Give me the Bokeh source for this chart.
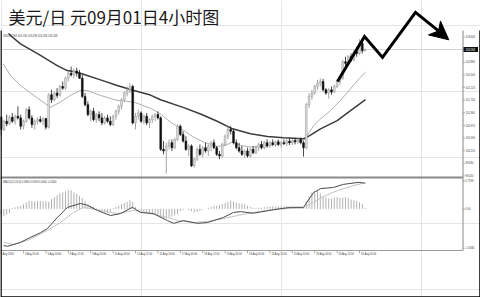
from bokeh.plotting import figure
from bokeh.models import Range1d, ColumnDataSource
from bokeh.core.properties import value
from bokeh.embed import file_html
from bokeh.resources import INLINE

# ---------------- data ----------------
title_text = "美元/日 元09月01日4小时图"
header_text = "USDJPY,H4 103.130 103.296 103.208 103.268"
macd_text = "MACD(12,26,9) 0.0964 0.0929 0.0000 -0.0050"

opens = [101.22, 100.85, 101.10, 101.02, 101.22, 101.10, 101.25, 101.20, 100.95, 101.10,
         101.45, 101.20, 101.00, 101.10, 101.15, 101.10, 101.18, 100.92, 101.90, 101.75,
         101.95, 101.88, 102.15, 102.10, 102.40, 102.55, 102.50, 102.62, 102.55, 102.40,
         101.85, 101.60, 101.30, 101.40, 101.15, 101.30, 101.20, 101.05, 101.20, 101.10,
         101.00, 101.25, 101.40, 101.55, 101.75, 101.95, 102.05, 102.15, 101.05, 101.25,
         101.35, 101.10, 101.25, 101.05, 101.15, 101.25, 101.30, 101.20, 100.25, 100.20,
         100.35, 100.45, 100.30, 100.55, 100.95, 100.70, 100.50, 100.25, 100.35, 99.75,
         99.95, 100.25, 100.10, 100.30, 100.20, 100.35, 100.45, 100.30, 100.10, 100.05,
         100.40, 100.65, 100.85, 100.80, 100.45, 100.30, 100.20, 100.10, 100.20, 100.05,
         100.25, 100.15, 100.30, 100.40, 100.30, 100.45, 100.35, 100.45, 100.40, 100.48,
         100.40, 100.45, 100.42, 100.50, 100.45, 100.52, 100.48, 100.55, 100.45, 100.30,
         101.60, 101.85, 101.95, 102.15, 102.25, 102.30, 102.05, 101.95, 102.05, 101.98,
         102.15, 102.30, 102.40, 102.90, 102.85, 103.05, 102.95, 103.20, 103.15, 103.45,
         103.23]
highs = [101.25, 101.15, 101.30, 101.28, 101.35, 101.30, 101.55, 101.30, 101.15, 101.50,
         101.55, 101.28, 101.15, 101.22, 101.25, 101.22, 101.20, 101.95, 102.05, 102.00,
         102.10, 102.20, 102.30, 102.45, 102.60, 102.75, 102.70, 102.72, 102.65, 102.50,
         101.95, 101.70, 101.45, 101.50, 101.35, 101.40, 101.35, 101.25, 101.30, 101.25,
         101.30, 101.45, 101.60, 101.80, 102.00, 102.15, 102.25, 102.20, 101.35, 101.45,
         101.40, 101.30, 101.35, 101.20, 101.30, 101.35, 101.40, 101.25, 100.50, 100.45,
         100.55, 100.55, 100.60, 101.00, 101.00, 100.80, 100.65, 100.40, 100.40, 100.00,
         100.30, 100.40, 100.35, 100.45, 100.40, 100.50, 100.55, 100.35, 100.20, 100.45,
         100.70, 100.95, 100.95, 100.85, 100.55, 100.45, 100.35, 100.25, 100.30, 100.30,
         100.35, 100.35, 100.45, 100.50, 100.50, 100.55, 100.50, 100.55, 100.52, 100.55,
         100.50, 100.55, 100.55, 100.58, 100.55, 100.60, 100.58, 100.60, 100.50, 101.65,
         101.95, 102.05, 102.20, 102.35, 102.40, 102.38, 102.10, 102.10, 102.15, 102.20,
         102.35, 102.45, 102.95, 103.05, 103.10, 103.15, 103.25, 103.35, 103.58, 103.52,
         103.296]
lows = [100.67, 100.80, 100.95, 100.98, 101.05, 101.00, 101.15, 100.85, 100.85, 101.05,
        101.15, 100.90, 100.85, 101.00, 101.05, 100.98, 100.85, 100.88, 101.65, 101.70,
        101.80, 101.85, 102.05, 102.05, 102.30, 102.45, 102.40, 102.45, 102.38, 101.80,
        101.55, 101.25, 101.10, 101.10, 101.05, 101.10, 100.98, 101.00, 101.05, 100.95,
        100.95, 101.15, 101.30, 101.45, 101.70, 101.85, 101.95, 101.00, 100.85, 101.15,
        101.05, 101.00, 100.98, 100.90, 101.05, 101.10, 101.15, 100.20, 100.10, 99.52,
        100.25, 100.20, 100.25, 100.50, 100.65, 100.45, 100.20, 100.05, 99.72, 99.70,
        99.90, 100.05, 100.00, 100.15, 100.05, 100.20, 100.25, 100.05, 99.95, 100.00,
        100.35, 100.55, 100.70, 100.40, 100.25, 100.15, 100.05, 99.98, 100.00, 100.00,
        100.10, 100.10, 100.20, 100.25, 100.25, 100.30, 100.30, 100.35, 100.32, 100.35,
        100.30, 100.38, 100.35, 100.38, 100.38, 100.40, 100.42, 100.40, 100.03, 100.25,
        101.50, 101.75, 101.90, 102.05, 102.15, 102.00, 101.90, 101.78, 101.90, 101.95,
        102.10, 102.20, 102.35, 102.75, 102.80, 102.90, 102.90, 103.05, 103.10, 103.15,
        103.208]
closes = [100.85, 101.10, 101.02, 101.22, 101.10, 101.25, 101.20, 100.95, 101.10, 101.45,
          101.20, 101.00, 101.10, 101.15, 101.10, 101.18, 100.92, 101.90, 101.75, 101.95,
          101.88, 102.15, 102.10, 102.40, 102.55, 102.50, 102.62, 102.55, 102.40, 101.85,
          101.60, 101.30, 101.40, 101.15, 101.30, 101.20, 101.05, 101.20, 101.10, 101.00,
          101.25, 101.40, 101.55, 101.75, 101.95, 102.05, 102.15, 101.05, 101.25, 101.35,
          101.10, 101.25, 101.05, 101.15, 101.25, 101.30, 101.20, 100.25, 100.20, 100.35,
          100.45, 100.30, 100.55, 100.95, 100.70, 100.50, 100.25, 100.35, 99.75, 99.95,
          100.25, 100.10, 100.30, 100.20, 100.35, 100.45, 100.30, 100.10, 100.05, 100.40,
          100.65, 100.85, 100.80, 100.45, 100.30, 100.20, 100.10, 100.20, 100.05, 100.25,
          100.15, 100.30, 100.40, 100.30, 100.45, 100.35, 100.45, 100.40, 100.48, 100.40,
          100.45, 100.42, 100.50, 100.45, 100.52, 100.48, 100.55, 100.45, 100.30, 101.60,
          101.85, 101.95, 102.15, 102.25, 102.30, 102.05, 101.95, 102.05, 101.98, 102.15,
          102.30, 102.40, 102.90, 102.85, 103.05, 102.95, 103.20, 103.15, 103.45, 103.23,
          103.268]
last_price = 103.268

ma_fast_x = [0.75, 3.36, 6.93, 11.68, 17.64, 21.21, 24.79, 28.36, 30.75, 35.5, 41.46, 47.39,
             53.36, 56.93, 60.5, 65.25, 68.71, 72.29, 77.18, 80.14, 82.54, 85.5, 89.07, 95.04,
             100.96, 108.1, 109.32, 111.68, 114.07, 117.64, 121.21, 124.79, 127.75, 130.14]
ma_fast_y = [102.84, 102.48, 102.18, 101.88, 101.52, 101.68, 101.88, 102.03, 102.03, 101.88,
             101.73, 101.68, 101.49, 101.32, 101.07, 100.82, 100.62, 100.47, 100.34, 100.37,
             100.47, 100.37, 100.32, 100.37, 100.44, 100.52, 100.67, 100.97, 101.17, 101.42,
             101.73, 102.08, 102.38, 102.58]
ma_slow_x = [2.64, 3.36, 6.93, 14.07, 20.04, 23.6, 27.2, 30.75, 35.5, 41.46, 47.39, 53.36,
             56.93, 65.25, 71.21, 77.18, 82.64, 89.07, 95.14, 100.86, 108.0, 109.32, 114.07,
             120.04, 124.79, 130.14]
ma_slow_y = [103.75, 103.69, 103.44, 103.09, 102.78, 102.63, 102.58, 102.48, 102.35, 102.18,
             102.03, 101.89, 101.75, 101.51, 101.32, 101.10, 100.87, 100.72, 100.64, 100.60,
             100.57, 100.62, 100.87, 101.12, 101.42, 101.75]

macd_hist = [-0.15, -0.18, -0.15, -0.10, 0.02, 0.04, 0.06, 0.08, 0.12, 0.16,
             0.20, 0.20, 0.19, 0.20, 0.21, 0.20, 0.19, 0.18, 0.25, 0.30,
             0.35, 0.40, 0.42, 0.45, 0.47, 0.48, 0.42, 0.38, 0.33, 0.28,
             0.20, 0.12, 0.08, 0.05, 0.02, -0.03, -0.06, -0.09, -0.10, -0.07,
             0.02, 0.05, 0.08, 0.12, 0.15, 0.18, 0.22, 0.18, 0.05, -0.02,
             -0.05, -0.07, -0.08, -0.10, -0.12, -0.15, -0.18, -0.22, -0.25, -0.25,
             -0.22, -0.20, -0.17, -0.14, -0.06, -0.03, 0.00, -0.03, -0.06, -0.09,
             -0.08, -0.05, -0.02, 0.00, 0.03, 0.05, 0.07, 0.08, 0.10, 0.12,
             0.15, 0.18, 0.21, 0.19, 0.16, 0.14, 0.13, 0.12, 0.08, 0.05,
             0.03, 0.02, 0.03, 0.03, 0.04, 0.05, 0.06, 0.07, 0.06, 0.07,
             0.06, 0.06, 0.07, 0.06, 0.06, 0.05, 0.06, 0.05, 0.04, 0.20,
             0.33, 0.42, 0.45, 0.46, 0.40, 0.33, 0.30, 0.27, 0.26, 0.29,
             0.30, 0.28, 0.29, 0.30, 0.28, 0.24, 0.22, 0.20, 0.17, 0.13,
             0.02]
macd_main_x = [0.9, 2.3, 6.9, 10.5, 14.1, 16.6, 20.1, 23.7, 28.4, 30.9, 34.4, 39.1, 42.6,
               46.9, 49.8, 54.4, 59.4, 61.6, 65.1, 70.1, 73.7, 79.4, 83.0, 85.5, 90.1, 92.6,
               97.3, 103.4, 108.0, 111.6, 114.1, 118.7, 122.3, 127.6, 130.1]
macd_main_y = [-0.94, -0.96, -0.86, -0.73, -0.61, -0.50, -0.22, 0.04, 0.14, 0.09, -0.04,
               -0.17, -0.12, 0.04, -0.09, -0.12, -0.30, -0.37, -0.30, -0.37, -0.35, -0.22,
               -0.09, -0.07, -0.11, -0.08, -0.02, 0.04, 0.04, 0.42, 0.52, 0.55, 0.63, 0.68,
               0.66]
macd_sig_x = [0.9, 4.4, 9.4, 13.0, 16.6, 21.2, 25.9, 29.4, 35.5, 41.6, 47.3, 53.4, 59.4,
              63.0, 68.7, 73.7, 79.4, 84.4, 92.6, 99.8, 108.0, 111.6, 115.2, 120.1, 125.9,
              129.4]
macd_sig_y = [-0.86, -0.91, -0.81, -0.68, -0.55, -0.35, -0.09, 0.04, -0.04, -0.12, -0.04,
              -0.12, -0.22, -0.30, -0.35, -0.32, -0.25, -0.17, -0.06, 0.00, 0.03, 0.17, 0.32,
              0.47, 0.60, 0.66]

price_ticks = [103.640, 102.880, 102.500, 102.120, 101.740, 101.360, 100.970, 100.590,
               100.210, 99.830, 99.450]
price_tick_labels = ["103.640", "102.880", "102.500", "102.120", "101.740", "101.360",
                     "100.970", "100.590", "100.210", "99.830", "99.450"]
macd_ticks = [0.7199, 0.0, -1.0084]
macd_tick_labels = ["0.7199", "0.00", "-1.0084"]
time_ticks = [0, 8, 16, 24, 32, 40, 48, 56, 64, 72, 80, 88, 96, 104, 112, 120, 128]
time_labels = ["Aug 2016", "3 Aug 20:00", "5 Aug 04:00", "8 Aug 12:00", "9 Aug 20:00",
               "11 Aug 04:00", "12 Aug 12:00", "15 Aug 20:00", "17 Aug 04:00", "18 Aug 12:00",
               "19 Aug 20:00", "23 Aug 04:00", "24 Aug 12:00", "25 Aug 20:00", "29 Aug 04:00",
               "30 Aug 12:00", "31 Aug 20:00"]

# hand-drawn zigzag arrow (bar index, price)
arrow_x = [120.14, 129.79, 136.21, 148.0, 156.21]
arrow_y = [102.30, 103.66, 103.03, 104.39, 103.83]
arrow_head_x = [159.89, 152.64, 156.21, 156.93]
arrow_head_y = [103.56, 103.71, 103.83, 104.13]

# ---------------- layout constants ----------------
W, H = 480, 297
BAR0_PX, BAR_PX = 0.6, 2.8
PRICE_REF, PRICE_REF_PX, PRICE_PX = 103.640, 36.7, 33.08
MACD_ZERO_PX, MACD_PX = 208.4, 39.0
AXIS_X = 462.5
SMALL = "2.6px"
TXT = "#3a3a3a"
FONT = value("Liberation Sans")

p = figure(width=W, height=H, output_backend="svg", toolbar_location=None,
           x_range=Range1d(-BAR0_PX / BAR_PX, (W - BAR0_PX) / BAR_PX),
           y_range=Range1d(PRICE_REF - (H - PRICE_REF_PX) / PRICE_PX,
                           PRICE_REF + PRICE_REF_PX / PRICE_PX),
           x_axis_location=None, y_axis_location=None, min_border=0)
p.outline_line_color = None
p.background_fill_color = "white"
p.border_fill_color = "white"
p.extra_y_ranges = {"macd": Range1d(-(H - MACD_ZERO_PX) / MACD_PX, MACD_ZERO_PX / MACD_PX),
                    "py": Range1d(H, 0)}
p.extra_x_ranges = {"px": Range1d(0, W)}

# price line
p.segment(x0=[0], x1=[AXIS_X], y0=[last_price], y1=[last_price], x_range_name="px",
          line_color="#d4d4d4", line_width=1)

# moving averages
p.line(ma_fast_x, ma_fast_y, line_color="#b0b0b0", line_width=1)
p.line(ma_slow_x, ma_slow_y, line_color="#3c3c3c", line_width=1.5)

# candles
n = len(opens)
up = [closes[i] >= opens[i] for i in range(n)]
def build(flag):
    ids = [i for i in range(n) if up[i] == flag]
    return ColumnDataSource(dict(
        x=ids,
        hi=[highs[i] for i in ids], lo=[lows[i] for i in ids],
        top=[max(opens[i], closes[i]) for i in ids],
        bot=[min(opens[i], closes[i]) for i in ids]))
src_up, src_dn = build(True), build(False)
p.segment(x0="x", x1="x", y0="lo", y1="hi", source=src_up, line_color="#8e8e8e", line_width=0.8)
p.segment(x0="x", x1="x", y0="lo", y1="hi", source=src_dn, line_color="#1e1e1e", line_width=0.8)
p.vbar(x="x", width=0.62, top="top", bottom="bot", source=src_up,
       fill_color="#e4e4e4", line_color="#9a9a9a", line_width=0.6)
p.vbar(x="x", width=0.62, top="top", bottom="bot", source=src_dn,
       fill_color="#111111", line_color="#111111", line_width=0.6)

# MACD pane
idx = list(range(len(macd_hist)))
p.segment(x0=idx, x1=idx, y0=[0] * len(idx), y1=macd_hist, y_range_name="macd",
          line_color="#9c9c9c", line_width=0.8)
p.line(macd_sig_x, macd_sig_y, y_range_name="macd", line_color="#c4c4c4", line_width=1)
p.line(macd_main_x, macd_main_y, y_range_name="macd", line_color="#4a4a4a", line_width=1)

# pane frames
p.segment(x0=[0], x1=[AXIS_X], y0=[177], y1=[177], x_range_name="px", y_range_name="py",
          line_color="#8a8a8a", line_width=2)
p.segment(x0=[0], x1=[AXIS_X], y0=[250], y1=[250], x_range_name="px", y_range_name="py",
          line_color="#9a9a9a", line_width=1.2)
p.segment(x0=[AXIS_X], x1=[AXIS_X], y0=[30], y1=[250], x_range_name="px", y_range_name="py",
          line_color="#9a9a9a", line_width=1.2)

# price axis
p.segment(x0=[AXIS_X] * len(price_ticks), x1=[AXIS_X + 2] * len(price_ticks),
          y0=price_ticks, y1=price_ticks, x_range_name="px", line_color="#9a9a9a", line_width=0.8)
p.text(x=[AXIS_X + 2.5] * len(price_ticks), y=price_ticks, text=price_tick_labels,
       x_range_name="px", text_font=FONT, text_font_size=SMALL, text_color=TXT,
       text_baseline="middle", text_align="left")
p.quad(left=[AXIS_X + 0.5], right=[477.5], bottom=[last_price - 2.6 / PRICE_PX],
       top=[last_price + 2.6 / PRICE_PX], x_range_name="px", fill_color="#111111",
       line_color=None)
p.text(x=[AXIS_X + 2.5], y=[last_price], text=["%.3f" % last_price], x_range_name="px",
       text_font=FONT, text_font_size=SMALL, text_color="white",
       text_baseline="middle", text_align="left")

# macd axis
p.segment(x0=[AXIS_X] * 3, x1=[AXIS_X + 2] * 3, y0=macd_ticks, y1=macd_ticks,
          x_range_name="px", y_range_name="macd", line_color="#9a9a9a", line_width=0.8)
p.text(x=[AXIS_X + 2.5] * 3, y=macd_ticks, text=macd_tick_labels, x_range_name="px",
       y_range_name="macd", text_font=FONT, text_font_size=SMALL, text_color=TXT,
       text_baseline="middle", text_align="left")

# time axis
p.segment(x0=time_ticks, x1=time_ticks, y0=[250] * len(time_ticks), y1=[253] * len(time_ticks),
          y_range_name="py", line_color="#9a9a9a", line_width=0.8)
p.text(x=time_ticks, y=[253.5] * len(time_ticks), text=time_labels, y_range_name="py",
       x_offset=1.5, text_font=FONT, text_font_size=SMALL, text_color=TXT,
       text_baseline="middle", text_align="left")

# pane captions
p.text(x=[2.5], y=[35.5], text=[header_text], x_range_name="px", y_range_name="py",
       text_font=FONT, text_font_size=SMALL, text_color=TXT, text_baseline="middle")
p.text(x=[2.5], y=[181.7], text=[macd_text], x_range_name="px", y_range_name="py",
       text_font=FONT, text_font_size=SMALL, text_color=TXT, text_baseline="middle")

# title
p.text(x=[8], y=[15.5], text=[title_text], x_range_name="px", y_range_name="py",
       text_font=value("Noto Sans CJK SC"), text_font_size="17px", text_color="#1a1a1a",
       text_baseline="middle", text_align="left")

# outer frame
p.multi_line(xs=[[0.5, 0.5], [0.5, 479.5], [479.5, 479.5]],
             ys=[[30, 296.5], [296.5, 296.5], [296.5, 30]],
             x_range_name="px", y_range_name="py", line_color="black", line_width=1.5)

# zigzag arrow
p.line(arrow_x, arrow_y, line_color="black", line_width=3, line_join="miter")
p.patch(arrow_head_x, arrow_head_y, fill_color="black", line_color="black", line_width=1)

open("out.html", "w").write(file_html(p, INLINE))
